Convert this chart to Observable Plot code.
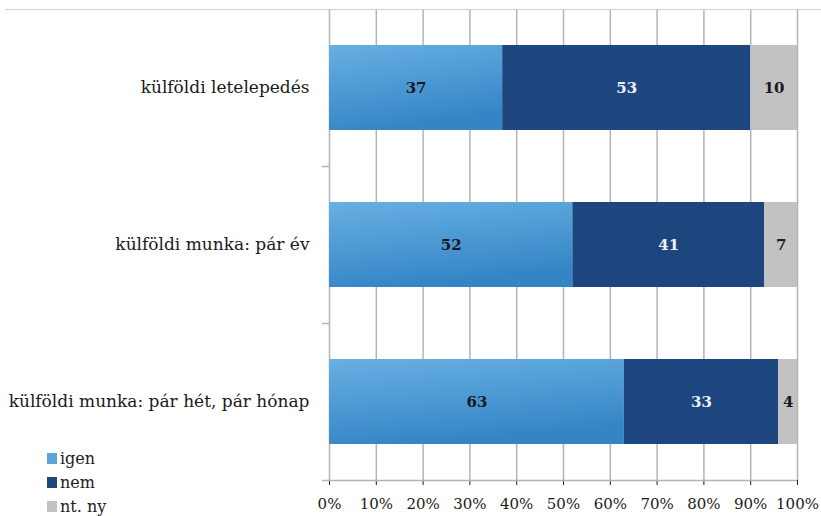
<!DOCTYPE html>
<html>
<head>
<meta charset="utf-8">
<script src="https://cdn.jsdelivr.net/npm/d3@7"></script>
<script src="https://cdn.jsdelivr.net/npm/@observablehq/plot@0.6"></script>
<style>
  html, body { margin: 0; padding: 0; background: #fff; overflow: hidden; }
  #wrap { position: relative; width: 821px; height: 516px; }
  #topline { position: absolute; left: 5px; right: 0; top: 9px; height: 0; border-top: 1px solid #d0d0d0; }
  #legend { position: absolute; left: 47px; top: 446px; font-family: 'DejaVu Serif', serif; font-size: 16px; color: #222; }
  #legend div { height: 24px; display: flex; align-items: center; }
  #legend span.sw { display: inline-block; width: 10px; height: 11px; margin-right: 3px; }
</style>
</head>
<body>
<div id="wrap"><div id="topline"></div><div id="legend"></div></div>
<script>
const categories = ["külföldi letelepedés", "külföldi munka: pár év", "külföldi munka: pár hét, pár hónap"];
const series = ["igen", "nem", "nt. ny"];
const igen = [37, 52, 63];
const nem = [53, 41, 33];
const ntny = [10, 7, 4];
const xTicks = [0, 10, 20, 30, 40, 50, 60, 70, 80, 90, 100];

const seriesValues = [igen, nem, ntny];
const data = [];
categories.forEach((c, i) => {
  series.forEach((s, j) => data.push({cat: c, series: s, value: seriesValues[j][i]}));
});

const colors = ["url(#gIgen)", "#1d467f", "#c2c2c2"];
const textColors = {"igen": "#1a1a1a", "nem": "#eef2f8", "nt. ny": "#1a1a1a"};

const marginTop = 9, marginBottom = 36, height = 516;
const step = (height - marginTop - marginBottom) / categories.length;

const chart = Plot.plot({
  width: 821,
  height,
  marginLeft: 329,
  marginRight: 24,
  marginTop,
  marginBottom,
  style: {fontFamily: "'DejaVu Serif', serif", fontSize: "15px", color: "#1a1a1a", background: "#fff"},
  x: {domain: [0, 100], ticks: xTicks, tickFormat: d => d + "%", tickSize: 5, tickPadding: 13, label: null},
  y: {domain: categories, paddingInner: 0.46, paddingOuter: 0.23, tickSize: 0, tickPadding: 20, label: null, fontSize: 17},
  color: {domain: series, range: colors},
  marks: [
    Plot.ruleX(xTicks, {stroke: "#b4b4b4", strokeWidth: 1.5}),
    Plot.ruleY(categories, {y: d => d, x1: -1.5, x2: 0, dy: step / 2, stroke: "#b4b4b4", strokeWidth: 1.5}),
    Plot.ruleY(categories.slice(-1), {y: d => d, x1: 0, x2: 100, dy: step / 2, stroke: "#b4b4b4", strokeWidth: 1.5}),
    Plot.barX(data, Plot.stackX({x: "value", y: "cat", fill: "series", order: series})),
    Plot.text(data, Plot.stackX({
      x: "value", y: "cat", order: series, text: d => d.value,
      fill: d => textColors[d.series], fontWeight: "bold", fontSize: 15
    }))
  ]
});

// y tick labels larger than x tick labels
chart.querySelectorAll("g[aria-label='y-axis tick label'] text, g[aria-label='y-axis'] text").forEach(t => t.setAttribute("font-size", "17"));

// gradient for "igen" bars
const ns = "http://www.w3.org/2000/svg";
const defs = document.createElementNS(ns, "defs");
const grad = document.createElementNS(ns, "linearGradient");
grad.setAttribute("id", "gIgen");
grad.setAttribute("x1", "0"); grad.setAttribute("y1", "0");
grad.setAttribute("x2", "0.3"); grad.setAttribute("y2", "1");
[["0%", "#67b0e2"], ["100%", "#3585c6"]].forEach(([o, c]) => {
  const s = document.createElementNS(ns, "stop");
  s.setAttribute("offset", o); s.setAttribute("stop-color", c);
  grad.appendChild(s);
});
defs.appendChild(grad);
chart.insertBefore(defs, chart.firstChild);

document.getElementById("wrap").appendChild(chart);
chart.style.position = "absolute";
chart.style.left = "0"; chart.style.top = "0";
document.getElementById("topline").style.zIndex = 1;

const legend = document.getElementById("legend");
legend.style.zIndex = 2;
const legendColors = ["#5aa6dc", "#1d467f", "#c2c2c2"];
series.forEach((s, i) => {
  const row = document.createElement("div");
  const sw = document.createElement("span");
  sw.className = "sw";
  sw.style.background = legendColors[i];
  row.appendChild(sw);
  row.appendChild(document.createTextNode(s));
  legend.appendChild(row);
});
</script>
</body>
</html>
